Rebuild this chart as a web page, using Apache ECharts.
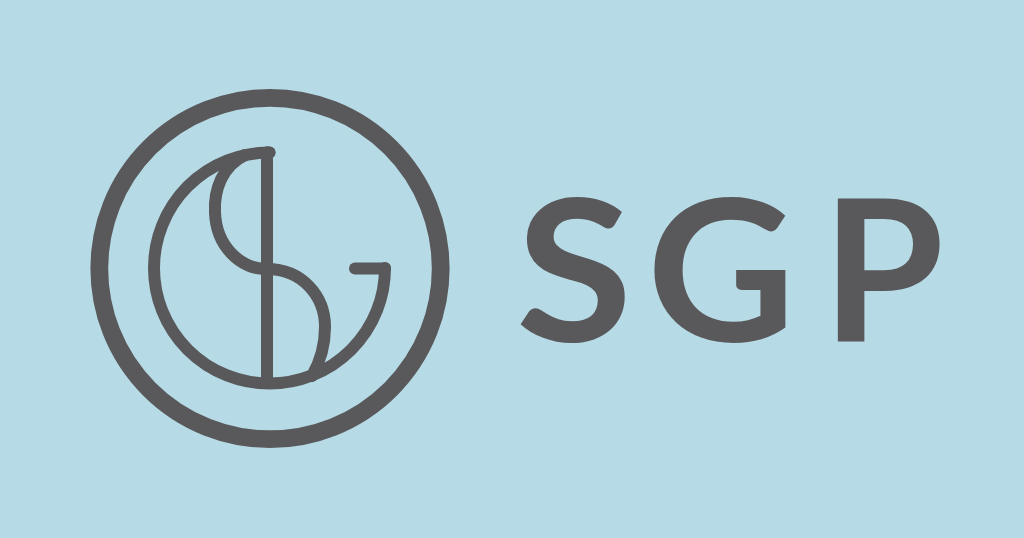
<!DOCTYPE html>
<html>
<head>
<meta charset="utf-8">
<script src="https://cdn.jsdelivr.net/npm/echarts@6/dist/echarts.min.js"></script>
<style>
html,body{margin:0;padding:0;background:#b7dbe6;}
#main{width:1024px;height:538px;}
</style>
</head>
<body>
<div id="main"></div>
<script>
// Wordmark letters
var letters = ['S', 'G', 'P'];

var GRAY = '#59595b';
var BG = '#b7dbe6';
var chart = echarts.init(document.getElementById('main'), null, {renderer: 'canvas'});

var cx = 270, cy = 268.5;
var letterX = [574, 721, 883];
var letterScaleX = [1.08, 1.04, 1.0];
var lineStyle = {fill: null, stroke: GRAY, lineWidth: 12, lineCap: 'round', lineJoin: 'round'};

function seg(x1, y1, c1x, c1y, c2x, c2y, x2, y2) {
  return {type: 'bezierCurve',
    shape: {x1: x1, y1: y1, cpx1: c1x, cpy1: c1y, cpx2: c2x, cpy2: c2y, x2: x2, y2: y2},
    style: lineStyle};
}

var elements = [
  // outer ring
  {type: 'circle', shape: {cx: cx, cy: cy, r: 170.7}, style: {fill: null, stroke: GRAY, lineWidth: 17.8}},
  // G arc: right -> bottom -> left -> top
  {type: 'arc', shape: {cx: cx - 0.5, cy: cy - 0.5, r: 115.5, startAngle: 0, endAngle: Math.PI * 1.5, clockwise: true},
   style: lineStyle},
  // G bar
  {type: 'line', shape: {x1: 355, y1: 268.5, x2: 385, y2: 268.5}, style: lineStyle},
  // top joint
  {type: 'line', shape: {x1: 267, y1: 152.5, x2: 269.5, y2: 152.5}, style: lineStyle},
  // vertical stem
  {type: 'line', shape: {x1: 267, y1: 152.5, x2: 267, y2: 382}, style: lineStyle},
  // S upper half
  seg(245, 155, 222, 166, 214, 190, 215, 212),
  seg(215, 212, 216, 246, 240, 269, 267, 269),
  // S lower half
  seg(267, 269, 302, 269, 325, 296, 325, 327),
  seg(325, 327, 325, 347, 320, 362, 312, 376)
];

letters.forEach(function (ch, i) {
  elements.push({
    type: 'text',
    x: letterX[i], y: 179,
    scaleX: letterScaleX[i],
    originX: 0, originY: 0,
    style: {
      text: ch, fill: GRAY,
      font: '700 197px Lato',
      textAlign: 'center', textVerticalAlign: 'top'
    }
  });
});

chart.setOption({
  backgroundColor: BG,
  animation: false,
  graphic: {elements: elements}
});
</script>
</body>
</html>
